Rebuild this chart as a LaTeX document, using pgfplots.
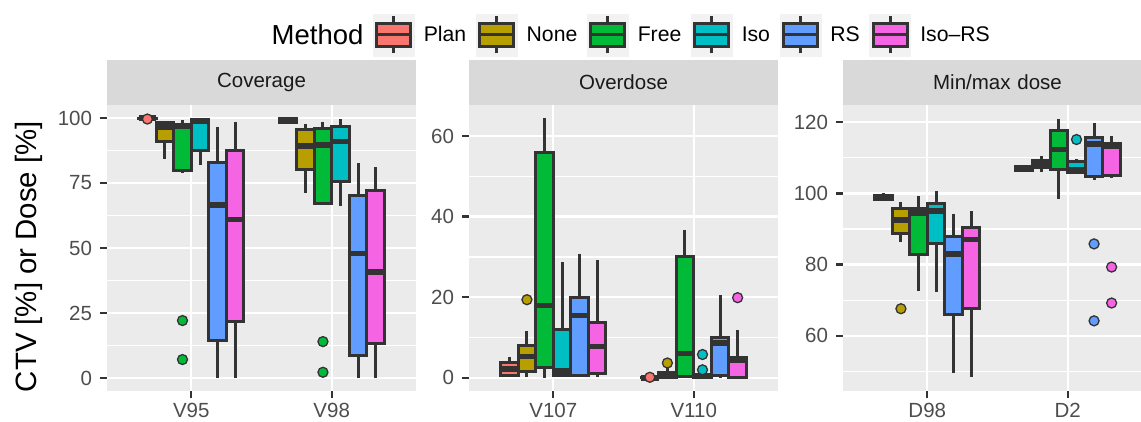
\documentclass[border=0pt]{standalone}
\usepackage{pgfplots}
\pgfplotsset{compat=1.18}
\usepgfplotslibrary{statistics}
\usepackage{fontspec}
\setmainfont{Liberation Sans}

\definecolor{cPlan}{HTML}{F8766D}
\definecolor{cNone}{HTML}{B79F00}
\definecolor{cFree}{HTML}{00BA38}
\definecolor{cIso}{HTML}{00BFC4}
\definecolor{cRS}{HTML}{619CFF}
\definecolor{cIsoRS}{HTML}{F564E3}
\definecolor{panelbg}{HTML}{EBEBEB}
\definecolor{stripbg}{HTML}{D9D9D9}
\definecolor{keybg}{HTML}{F2F2F2}
\definecolor{grey20}{HTML}{333333}
\definecolor{grey30}{HTML}{4D4D4D}
\definecolor{grey10}{HTML}{1A1A1A}

\newcommand{\smallfont}{\fontsize{20.5}{24}\selectfont}
\newcommand{\legfont}{\fontsize{21.2}{24}\selectfont}
\newcommand{\bigfont}{\fontsize{27.5}{32}\selectfont}
\newcommand{\labfont}{\fontsize{29.4}{34}\selectfont}

% Categories sit at x = 10 and 20; the six methods are dodged around them.
\pgfplotsset{
  facet/.style={
    scale only axis, width=309pt, height=286pt, anchor=south west,
    disabledatascaling,
    xmin=4, xmax=26, xtick={10,20},
    axis background/.style={fill=panelbg},
    axis line style={draw=none},
    grid=both,
    major grid style={white, line width=2.4pt},
    minor grid style={white, line width=1.2pt},
    tick align=outside, xtick pos=bottom, ytick pos=left,
    major tick length=7pt, minor tick length=0pt,
    tick style={grey20, line width=2.4pt},
    ticklabel style={font=\smallfont, text=grey30},
    yticklabel style={xshift=-4.5pt},
    xticklabel style={yshift=-1.5pt},
    /pgf/number format/assume math mode=true,
    every axis title/.style={at={(0.5,1)}, anchor=south, fill=stripbg,
      text width=309pt, align=center, minimum height=45pt, inner sep=0pt,
      font=\smallfont, text=grey10},
    boxplot/draw direction=y,
    boxplot/box extend=1.25,
    boxplot/whisker extend=0,
    boxplot/every median/.style={line width=5.5pt},
  },
  ggbox/.style={fill=#1, draw=grey20, line width=3pt, solid, mark=*,
    mark size=5pt, mark options={fill=#1, draw=grey20, line width=1.3pt}},
  keyglyph/.style={legend image code/.code={
    \fill[keybg] (0pt,-21pt) rectangle (41pt,21pt);
    \draw[grey20, line width=3pt] (20.5pt,-18.5pt) -- (20.5pt,18.5pt);
    \filldraw[fill=#1, draw=grey20, line width=3pt] (3.5pt,-11.5pt) rectangle (37.5pt,11.5pt);
    \draw[grey20, line width=3pt] (3.5pt,0pt) -- (37.5pt,0pt);
  }},
}

\begin{document}
\begin{tikzpicture}
\useasboundingbox (0pt,0pt) rectangle (1141pt,421pt);

% ---------------- Coverage ----------------
\begin{axis}[facet, at={(107pt,30pt)},
  title={Coverage},
  ymin=-5, ymax=105,
  ytick={0,25,50,75,100}, minor ytick={12.5,37.5,62.5,87.5},
  xticklabels={V95,V98},
  ylabel={CTV [\%] or Dose [\%]},
  every axis y label/.style={at={(axis description cs:-0.254,0.47)}, rotate=90,
    anchor=center, font=\labfont, text=black},
  legend columns=-1,
  legend style={at={(axis description cs:0.492,1.2448)}, anchor=west,
    draw=none, fill=none, column sep=9.5pt, font=\legfont,
    nodes={inner sep=0pt}},
]
\addlegendimage{empty legend}
\addlegendentry{\bigfont Method\hspace{5pt}}
\addlegendimage{keyglyph=cPlan}  \addlegendentry{Plan}
\addlegendimage{keyglyph=cNone}  \addlegendentry{None}
\addlegendimage{keyglyph=cFree}  \addlegendentry{Free}
\addlegendimage{keyglyph=cIso}   \addlegendentry{Iso}
\addlegendimage{keyglyph=cRS}    \addlegendentry{RS}
\addlegendimage{keyglyph=cIsoRS} \addlegendentry{Iso--RS}

% V95
\addplot[boxplot prepared={draw position=6.875, lower whisker=99.5, lower quartile=99.8, median=100, upper quartile=100, upper whisker=100}, ggbox=cPlan]
  table[row sep=\\, y index=0] {v\\ 99.6\\};
\addplot[boxplot prepared={draw position=8.125, lower whisker=84.1, lower quartile=90.9, median=96.5, upper quartile=98.2, upper whisker=99.0}, ggbox=cNone] coordinates {};
\addplot[boxplot prepared={draw position=9.375, lower whisker=78.7, lower quartile=79.9, median=96.7, upper quartile=97.6, upper whisker=99.2}, ggbox=cFree]
  table[row sep=\\, y index=0] {v\\ 22.1\\ 7.1\\};
\addplot[boxplot prepared={draw position=10.625, lower whisker=82.1, lower quartile=87.4, median=98.6, upper quartile=99.3, upper whisker=99.6}, ggbox=cIso] coordinates {};
\addplot[boxplot prepared={draw position=11.875, lower whisker=0, lower quartile=14.4, median=66.5, upper quartile=82.9, upper whisker=96.7}, ggbox=cRS] coordinates {};
\addplot[boxplot prepared={draw position=13.125, lower whisker=0, lower quartile=21.7, median=60.9, upper quartile=87.4, upper whisker=98.6}, ggbox=cIsoRS] coordinates {};
% V98
\addplot[boxplot prepared={draw position=16.875, lower whisker=98.0, lower quartile=98.4, median=99.1, upper quartile=99.7, upper whisker=100}, ggbox=cPlan] coordinates {};
\addplot[boxplot prepared={draw position=18.125, lower whisker=71.3, lower quartile=80.3, median=89.2, upper quartile=95.4, upper whisker=97.7}, ggbox=cNone] coordinates {};
\addplot[boxplot prepared={draw position=19.375, lower whisker=66.8, lower quartile=67.1, median=89.6, upper quartile=96.0, upper whisker=98.6}, ggbox=cFree]
  table[row sep=\\, y index=0] {v\\ 14.0\\ 2.2\\};
\addplot[boxplot prepared={draw position=20.625, lower whisker=66.2, lower quartile=75.4, median=90.9, upper quartile=96.9, upper whisker=99.5}, ggbox=cIso] coordinates {};
\addplot[boxplot prepared={draw position=21.875, lower whisker=0, lower quartile=8.7, median=47.8, upper quartile=70.3, upper whisker=82.8}, ggbox=cRS] coordinates {};
\addplot[boxplot prepared={draw position=23.125, lower whisker=0, lower quartile=13.4, median=40.7, upper quartile=72.2, upper whisker=81.0}, ggbox=cIsoRS] coordinates {};
\end{axis}

% ---------------- Overdose ----------------
\begin{axis}[facet, at={(469pt,30pt)},
  title={Overdose},
  ymin=-3.25, ymax=67.7,
  ytick={0,20,40,60}, minor ytick={10,30,50},
  xticklabels={V107,V110},
]
% V107
\addplot[boxplot prepared={draw position=6.875, lower whisker=0.3, lower quartile=0.6, median=2.2, upper quartile=3.9, upper whisker=5.1}, ggbox=cPlan] coordinates {};
\addplot[boxplot prepared={draw position=8.125, lower whisker=0.2, lower quartile=1.7, median=5.3, upper quartile=8.0, upper whisker=11.6}, ggbox=cNone]
  table[row sep=\\, y index=0] {v\\ 19.4\\};
\addplot[boxplot prepared={draw position=9.375, lower whisker=0, lower quartile=2.7, median=18.0, upper quartile=55.9, upper whisker=64.4}, ggbox=cFree] coordinates {};
\addplot[boxplot prepared={draw position=10.625, lower whisker=0.3, lower quartile=0.6, median=1.7, upper quartile=11.9, upper whisker=28.8}, ggbox=cIso] coordinates {};
\addplot[boxplot prepared={draw position=11.875, lower whisker=0.2, lower quartile=0.6, median=15.5, upper quartile=19.9, upper whisker=30.8}, ggbox=cRS] coordinates {};
\addplot[boxplot prepared={draw position=13.125, lower whisker=0.2, lower quartile=1.0, median=7.8, upper quartile=13.7, upper whisker=29.2}, ggbox=cIsoRS] coordinates {};
% V110
\addplot[boxplot prepared={draw position=16.875, lower whisker=0, lower quartile=0, median=0, upper quartile=0.1, upper whisker=0.2}, ggbox=cPlan]
  table[row sep=\\, y index=0] {v\\ 0.15\\};
\addplot[boxplot prepared={draw position=18.125, lower whisker=0, lower quartile=0.2, median=0.8, upper quartile=1.3, upper whisker=2.8}, ggbox=cNone]
  table[row sep=\\, y index=0] {v\\ 3.7\\};
\addplot[boxplot prepared={draw position=19.375, lower whisker=0, lower quartile=0.3, median=6.1, upper quartile=30.0, upper whisker=36.6}, ggbox=cFree] coordinates {};
\addplot[boxplot prepared={draw position=20.625, lower whisker=0, lower quartile=0.1, median=0.4, upper quartile=0.9, upper whisker=1.3}, ggbox=cIso]
  table[row sep=\\, y index=0] {v\\ 5.8\\ 2.0\\};
\addplot[boxplot prepared={draw position=21.875, lower whisker=0, lower quartile=0.5, median=8.6, upper quartile=9.9, upper whisker=20.5}, ggbox=cRS] coordinates {};
\addplot[boxplot prepared={draw position=23.125, lower whisker=0, lower quartile=0.2, median=4.3, upper quartile=5.1, upper whisker=11.9}, ggbox=cIsoRS]
  table[row sep=\\, y index=0] {v\\ 19.9\\};
\end{axis}

% ---------------- Min/max dose ----------------
\begin{axis}[facet, at={(843pt,30pt)},
  title={Min/max dose},
  ymin=44.5, ymax=124.8,
  ytick={60,80,100,120}, minor ytick={50,70,90,110},
  xticklabels={D98,D2},
]
% D98
\addplot[boxplot prepared={draw position=6.875, lower whisker=97.9, lower quartile=98.4, median=99.0, upper quartile=99.5, upper whisker=100.1}, ggbox=cPlan] coordinates {};
\addplot[boxplot prepared={draw position=8.125, lower whisker=86.4, lower quartile=88.7, median=92.5, upper quartile=95.6, upper whisker=97.6}, ggbox=cNone]
  table[row sep=\\, y index=0] {v\\ 67.6\\};
\addplot[boxplot prepared={draw position=9.375, lower whisker=72.7, lower quartile=82.7, median=94.5, upper quartile=95.6, upper whisker=99.2}, ggbox=cFree] coordinates {};
\addplot[boxplot prepared={draw position=10.625, lower whisker=72.4, lower quartile=86.0, median=95.1, upper quartile=97.1, upper whisker=100.7}, ggbox=cIso] coordinates {};
\addplot[boxplot prepared={draw position=11.875, lower whisker=49.6, lower quartile=66.1, median=83.0, upper quartile=87.8, upper whisker=94.3}, ggbox=cRS] coordinates {};
\addplot[boxplot prepared={draw position=13.125, lower whisker=48.4, lower quartile=67.6, median=87.1, upper quartile=90.3, upper whisker=95.0}, ggbox=cIsoRS] coordinates {};
% D2
\addplot[boxplot prepared={draw position=16.875, lower whisker=106.0, lower quartile=106.4, median=106.9, upper quartile=107.4, upper whisker=107.9}, ggbox=cPlan] coordinates {};
\addplot[boxplot prepared={draw position=18.125, lower whisker=106.0, lower quartile=107.2, median=108.0, upper quartile=109.3, upper whisker=110.4}, ggbox=cNone] coordinates {};
\addplot[boxplot prepared={draw position=19.375, lower whisker=98.5, lower quartile=106.7, median=112.3, upper quartile=117.6, upper whisker=120.9}, ggbox=cFree] coordinates {};
\addplot[boxplot prepared={draw position=20.625, lower whisker=105.5, lower quartile=105.9, median=106.6, upper quartile=108.8, upper whisker=109.7}, ggbox=cIso]
  table[row sep=\\, y index=0] {v\\ 115.1\\};
\addplot[boxplot prepared={draw position=21.875, lower whisker=103.7, lower quartile=104.6, median=113.9, upper quartile=115.7, upper whisker=119.7}, ggbox=cRS]
  table[row sep=\\, y index=0] {v\\ 85.8\\ 64.2\\};
\addplot[boxplot prepared={draw position=23.125, lower whisker=104.2, lower quartile=105.0, median=113.2, upper quartile=113.9, upper whisker=116.0}, ggbox=cIsoRS]
  table[row sep=\\, y index=0] {v\\ 79.3\\ 69.2\\};
\end{axis}
\end{tikzpicture}
\end{document}
